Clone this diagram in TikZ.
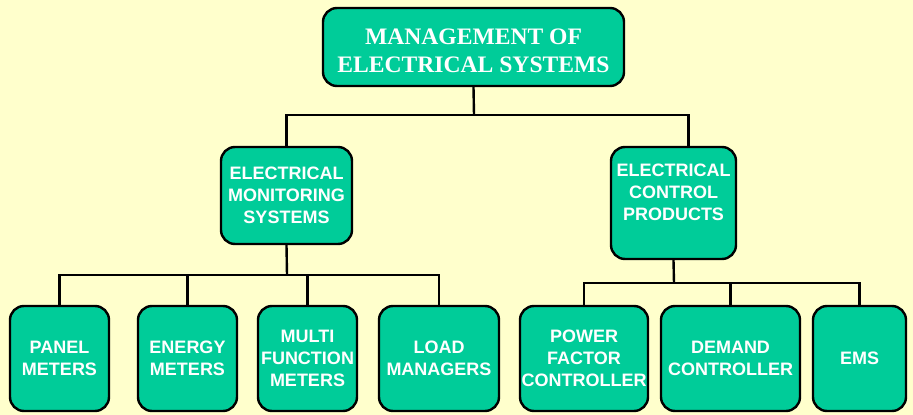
\documentclass[tikz,border=0pt]{standalone}
\usepackage{fontspec}
\setmainfont{Liberation Serif}
\setsansfont{Liberation Sans}
\usepackage{tikz}

\definecolor{boxgreen}{RGB}{0,204,153}
\definecolor{paleyellow}{RGB}{255,255,204}

\tikzset{
  box/.style={draw=black, line width=2.4pt, fill=boxgreen, rounded corners=14pt,
    text=white, align=center, inner sep=0pt},
  headbox/.style={box, font=\rmfamily\bfseries\fontsize{23.6}{28}\selectfont},
  subbox/.style={box, font=\sffamily\bfseries\fontsize{18}{22}\selectfont},
  wire/.style={draw=black, line width=2.4pt}
}

\begin{document}
\begin{tikzpicture}[x=1pt, y=-1pt]
            \useasboundingbox (0,0) rectangle (913,415);
            \fill[paleyellow] (0,0) rectangle (913,415);

            \node[headbox, minimum width=301, minimum height=78] (mes) at (473.5,47) {\rule{0pt}{24pt}MANAGEMENT OF\\ELECTRICAL SYSTEMS};

            \node[subbox, minimum width=131, minimum height=97] (mon) at (286.5,195.5) {ELECTRICAL\\MONITORING\\SYSTEMS};
            \node[subbox, minimum width=125, minimum height=112] (ctl) at (673.5,203) {ELECTRICAL\\CONTROL\\PRODUCTS\\\mbox{}};

            \node[subbox, minimum width=99, minimum height=105] (panel) at (59.5,358.5) {PANEL\\METERS};
            \node[subbox, minimum width=99, minimum height=105] (energy) at (187.5,358.5) {ENERGY\\METERS};
            \node[subbox, minimum width=99, minimum height=105] (multi) at (307.5,358.5) {MULTI\\FUNCTION\\METERS};
            \node[subbox, minimum width=120, minimum height=105] (load) at (439,358.5) {LOAD\\MANAGERS};
            \node[subbox, minimum width=128, minimum height=105] (pfc) at (584,358.5) {POWER\\FACTOR\\CONTROLLER};
            \node[subbox, minimum width=139, minimum height=105] (demand) at (730.5,358.5) {DEMAND\\CONTROLLER};
            \node[subbox, minimum width=93, minimum height=105] (emsys) at (859.5,358.5) {EMS};

            \coordinate (t1) at (474,115);
            \coordinate (m1) at (287,275);
            \coordinate (c1) at (674,283);

            \draw[wire] (mes.south) -- (t1);
            \draw[wire] (mon.north) |- (t1) -| ([xshift=15]ctl.north);

            \draw[wire] (mon.south) -- (m1);
            \draw[wire] (panel.north) |- (m1) -| (load.north);
            \foreach \n in {energy,multi}
              \draw[wire] (\n.north) -- (\n.north |- m1);

            \draw[wire] (ctl.south) -- (c1);
            \draw[wire] (pfc.north) |- (c1) -| (emsys.north);
            \draw[wire] (demand.north) -- (demand.north |- c1);
        \end{tikzpicture}
\end{document}
